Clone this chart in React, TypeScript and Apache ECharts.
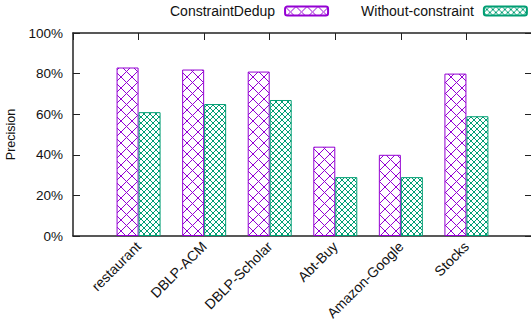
import React, { useEffect, useRef } from "react";
import * as echarts from "echarts";

const categories = ["restaurant", "DBLP-ACM", "DBLP-Scholar", "Abt-Buy", "Amazon-Google", "Stocks"];
const constraintDedup = [83, 82, 81, 44, 40, 80];
const withoutConstraint = [61, 65, 67, 29, 29, 59];
const yTicks = [0, 20, 40, 60, 80, 100];

const PURPLE = "#9400D3";
const GREEN = "#009E73";
const FONT = "'Liberation Sans', Arial, sans-serif";

// Diagonal cross-hatch tile; `dots` marks the line crossings.
function hatch(size: number, color: string, dots: boolean): HTMLCanvasElement {
  const c = document.createElement("canvas");
  c.width = size;
  c.height = size;
  const ctx = c.getContext("2d")!;
  ctx.strokeStyle = color;
  ctx.lineWidth = 1;
  ctx.beginPath();
  ctx.moveTo(-1, -1);
  ctx.lineTo(size + 1, size + 1);
  ctx.moveTo(size + 1, -1);
  ctx.lineTo(-1, size + 1);
  ctx.stroke();
  if (dots) {
    ctx.fillStyle = color;
    const h = size / 2;
    ctx.fillRect(h - 1, h - 1, 2, 2);
    ctx.fillRect(-1, -1, 2, 2);
    ctx.fillRect(size - 1, -1, 2, 2);
    ctx.fillRect(-1, size - 1, 2, 2);
    ctx.fillRect(size - 1, size - 1, 2, 2);
  }
  return c;
}

export default function App() {
  const ref = useRef<HTMLDivElement>(null);

  useEffect(() => {
    if (!ref.current) return;
    const chart = echarts.init(ref.current, undefined, { renderer: "svg" });

    const purplePattern = { image: hatch(11, PURPLE, false), repeat: "repeat" };
    const greenPattern = { image: hatch(6, GREEN, true), repeat: "repeat" };

    const axisLine = { show: true, onZero: false, lineStyle: { color: "#222", width: 1.5 } };
    const tickStyle = { show: true, inside: true, length: 7, lineStyle: { color: "#222", width: 1 } };

    chart.setOption({
      animation: false,
      backgroundColor: "#fff",
      textStyle: { fontFamily: FONT },
      legend: {
        orient: "horizontal",
        left: 170,
        top: 4,
        width: 420,
        padding: 0,
        align: "right",
        itemWidth: 43,
        itemHeight: 9,
        itemGap: 32,
        textStyle: { fontSize: 14, color: "#111", fontFamily: FONT, padding: [0, 5, 0, 0] },
        data: ["ConstraintDedup", "Without-constraint"],
      },
      grid: { left: 73, right: -1, top: 33, bottom: 88, containLabel: false, outerBoundsMode: "none" },
      xAxis: [
        {
          type: "value",
          position: "bottom",
          min: -1,
          max: 6,
          interval: 1,
          axisLine,
          axisTick: { show: false },
          splitLine: { show: false },
          axisLabel: {
            rotate: 45,
            margin: 8,
            fontSize: 14,
            color: "#111",
            fontFamily: FONT,
            showMinLabel: true,
            showMaxLabel: true,
            formatter: (v: number) => categories[v] ?? "",
          },
        },
        {
          type: "value",
          position: "top",
          min: -1,
          max: 6,
          interval: 1,
          axisLine,
          axisTick: tickStyle,
          axisLabel: { show: false },
          splitLine: { show: false },
        },
      ],
      yAxis: [
        {
          type: "value",
          position: "left",
          min: yTicks[0],
          max: yTicks[yTicks.length - 1],
          interval: 20,
          axisLine,
          axisTick: tickStyle,
          splitLine: { show: false },
          axisLabel: { formatter: "{value}%", fontSize: 13.5, color: "#111", margin: 10, fontFamily: FONT },
          name: "Precision",
          nameLocation: "middle",
          nameRotate: 90,
          nameGap: 46,
          nameTextStyle: { fontSize: 12.5, color: "#111", fontFamily: FONT },
        },
        {
          type: "value",
          position: "right",
          min: yTicks[0],
          max: yTicks[yTicks.length - 1],
          interval: 20,
          axisLine,
          axisTick: tickStyle,
          splitLine: { show: false },
          axisLabel: { show: false },
        },
      ],
      series: [
        {
          name: "ConstraintDedup",
          type: "bar",
          xAxisIndex: 0,
          yAxisIndex: 0,
          barWidth: 22,
          barGap: "0%",
          data: constraintDedup.map((v, i) => [i, v]),
          itemStyle: { color: purplePattern, borderColor: PURPLE, borderWidth: 1 },
        },
        {
          name: "Without-constraint",
          type: "bar",
          xAxisIndex: 0,
          yAxisIndex: 0,
          barWidth: 22,
          barGap: "0%",
          data: withoutConstraint.map((v, i) => [i, v]),
          itemStyle: { color: greenPattern, borderColor: GREEN, borderWidth: 1 },
        },
      ],
    });

    return () => chart.dispose();
  }, []);

  return <div ref={ref} style={{ width: 531, height: 324, position: "absolute", left: 0, top: 0 }} />;
}
